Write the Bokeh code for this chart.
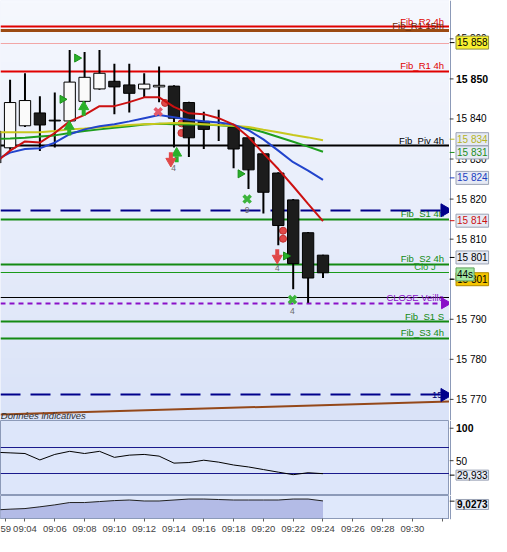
import numpy as np
from bokeh.plotting import figure
from bokeh.layouts import column, row
from bokeh.models import Range1d, FixedTicker
from bokeh.core.properties import value
from bokeh.embed import file_html
from bokeh.resources import INLINE

FONT = "Liberation Sans"

# ------------------------------------------------------------------ data
minutes = list(range(2, 25))          # 09:02 .. 09:24 (minutes after 09:00)
opens = [15837.0, 15832.8, 15838.3, 15841.5, 15839.7, 15839.5, 15844.4, 15847.5,
         15849.4, 15848.5, 15847.5, 15848.0, 15848.2, 15844.1, 15839.4, 15838.6,
         15837.9, 15835.3, 15831.3, 15826.5, 15819.8, 15811.6, 15806.0]
highs = [15839.0, 15849.8, 15851.4, 15845.7, 15846.6, 15857.2, 15856.7, 15857.2,
         15853.8, 15853.8, 15851.4, 15853.1, 15848.4, 15844.3, 15841.8, 15842.3,
         15838.1, 15835.5, 15831.5, 15826.7, 15820.0, 15811.8, 15806.1]
lows = [15826.0, 15832.3, 15838.0, 15832.0, 15832.9, 15839.0, 15843.8, 15847.3,
        15841.2, 15841.6, 15845.4, 15844.2, 15832.9, 15830.5, 15832.5, 15834.5,
        15827.7, 15822.5, 15816.4, 15808.5, 15797.5, 15794.1, 15800.3]
closes = [15829.0, 15844.1, 15844.6, 15838.5, 15839.5, 15849.2, 15850.4, 15851.4,
          15848.0, 15846.4, 15848.7, 15848.4, 15840.2, 15835.3, 15837.4, 15838.4,
          15832.5, 15827.3, 15821.7, 15813.4, 15803.9, 15800.3, 15801.6]

ma_red = [15829.0, 15832.1, 15834.4, 15834.1, 15836.5, 15839.4, 15841.0, 15843.2,
          15843.2, 15844.2, 15845.4, 15845.4, 15843.0, 15841.4, 15841.2, 15840.2,
          15838.6, 15835.5, 15831.4, 15827.5, 15823.2, 15818.8, 15814.5]
ma_blue = [15829.7, 15831.6, 15832.5, 15832.7, 15834.1, 15836.2, 15837.4, 15838.2,
           15838.7, 15839.4, 15840.2, 15841.0, 15840.4, 15839.8, 15839.4, 15839.1,
           15838.6, 15837.2, 15834.9, 15832.1, 15829.2, 15827.1, 15824.8]
ma_green = [15835.0, 15835.1, 15835.3, 15835.6, 15835.9, 15836.5, 15837.0, 15837.4,
            15837.8, 15838.2, 15838.6, 15838.8, 15838.7, 15838.6, 15838.6, 15838.4,
            15838.2, 15837.7, 15836.7, 15835.5, 15834.3, 15833.1, 15831.8]
ma_yellow = [15836.7, 15836.7, 15836.7, 15836.7, 15837.0, 15837.4, 15837.6, 15837.9,
             15838.2, 15838.5, 15838.7, 15838.8, 15839.0, 15838.9, 15838.7, 15838.5,
             15838.3, 15838.0, 15837.3, 15836.7, 15836.0, 15835.4, 15834.7]

rsi_vals = [63.0, 62.0, 61.0, 51.1, 59.6, 64.4, 61.0, 64.4, 55.1, 58.5, 59.6, 57.0,
            46.2, 47.1, 50.7, 47.7, 43.3, 40.3, 36.3, 32.3, 28.4, 31.4, 29.933]
rsi_levels = [70, 30]
rsi_ticks = [50, 100]

vol_vals = [4.4, 4.8, 5.1, 6.0, 7.0, 8.2, 8.2, 8.7, 9.2, 9.5, 9.0, 9.0, 9.5, 10.0,
            10.0, 9.75, 9.5, 9.5, 9.5, 9.5, 10.0, 10.0, 9.0273]

# horizontal levels (solid)
solid_prices = [15863.0, 15862.0, 15858.9, 15851.9, 15833.3, 15815.0, 15803.7,
                15801.7, 15795.4, 15789.4, 15785.3]
solid_colors = ["#e00000", "#9c4a12", "#f2a6a6", "#e00000", "#000000", "#138a13",
                "#138a13", "#1a9a1a", "#000000", "#138a13", "#138a13"]
solid_widths = [2, 3, 1, 2, 2, 2, 2, 1, 1, 2, 2]
navy_prices = [15817.2, 15771.1]
purple_prices = [15794.0]

level_texts = ["Fib_R2 4h", "Fib_R1 15m", "Fib_R1 4h", "Fib_Piv 4h", "Fib_S1 4h",
               "Fib_S2 4h", "Clo J", "CLOSE Veille", "Fib_S1 S", "Fib_S3 4h"]
level_text_prices = [15863.0, 15862.0, 15851.9, 15833.3, 15815.0, 15803.7, 15801.7,
                     15794.0, 15789.4, 15785.3]
level_text_colors = ["#e00000", "#6a2a0a", "#e00000", "#000000", "#138a13", "#138a13",
                     "#1a9a1a", "#8a10c8", "#138a13", "#138a13"]

trend_x = [2.357, 32.49]
trend_y = [15766.2, 15769.5]

# signals
tri_x = [7.49, 6.51, 18.46, 21.51]
tri_y = [15855.2, 15844.9, 15826.3, 15805.8]
up_x = [6.97, 7.94, 14.18]
up_y = [15837.4, 15842.3, 15830.7]
down_x = [13.79, 20.93]
down_y = [15830.2, 15806.0]
redx_x = [12.94]
redx_y = [15841.8]
grnx_x = [18.91, 21.95]
grnx_y = [15820.0, 15794.9]
dot_x = [14.50, 14.50, 13.40, 21.32, 21.32]
dot_y = [15838.9, 15836.5, 15844.0, 15812.1, 15810.1]
num_x = [13.98, 18.91, 20.93, 21.95]
num_y = [15827.8, 15817.2, 15802.9, 15792.0]
num_text = ["4", "9", "4", "4"]

price_ticks = [15770, 15780, 15790, 15800, 15810, 15820, 15830, 15840, 15850, 15860]
time_ticks = list(range(4, 33, 2))
time_labels = ["09:%02d" % m if m <= 30 else "" for m in time_ticks]
cursor_time = 2.7
cursor_label = "59"

pink_level = 15858.9
clo_j = 15801.7
timer_text = "44s"


def fmt_price(v):
    return f"{int(v):,}".replace(",", " ")


# ------------------------------------------------------------------ layout
FW = 449          # plot frame width
SW = 42           # price-scale column width
H_MAIN, H_RSI, H_VOL, AX_H = 420, 75, 41, 17
BORDER = "#8c9ab8"
x_rng = Range1d(2.357, 32.49)
LABEL_X = 32.12

common = dict(width=FW, x_range=x_rng, output_backend="svg", toolbar_location=None,
              tools="", min_border_left=0, min_border_top=0, min_border_right=0,
              border_fill_color="white", y_axis_location=None)

# ------------------------------------------------------------------ main
main = figure(height=H_MAIN, y_range=Range1d(15764.73, 15869.57), x_axis_location=None,
              background_fill_color="#e9eefb", outline_line_color=None,
              min_border_bottom=0, **common)
main.grid.visible = False

# background gradient
N = 128
top_c = np.array([0xf6, 0xf8, 0xfe], dtype=float)
bot_c = np.array([0xda, 0xe3, 0xf8], dtype=float)
tt = np.linspace(0, 1, N)[:, None]
cols = bot_c + (top_c - bot_c) * tt
img = np.zeros((N, 1), dtype=np.uint32)
view = img.view(dtype=np.uint8).reshape((N, 1, 4))
view[:, 0, 0] = cols[:, 0]
view[:, 0, 1] = cols[:, 1]
view[:, 0, 2] = cols[:, 2]
view[:, 0, 3] = 255
main.image_rgba(image=[img], x=x_rng.start, y=main.y_range.start,
                dw=x_rng.end - x_rng.start, dh=main.y_range.end - main.y_range.start)

main.hspan(y=solid_prices, line_color=solid_colors, line_width=solid_widths)
main.line(trend_x, trend_y, line_color="#94481a", line_width=2)

lbl_x = [LABEL_X if t != "Clo J" else LABEL_X - 0.55 for t in level_texts]
main.text(x=lbl_x, y=level_text_prices, text=level_texts, text_color=level_text_colors,
          text_align="right", text_baseline="bottom", text_font=value(FONT),
          text_font_size="9.5px")
main.text(x=[LABEL_X - 0.1], y=[navy_prices[1]], text=["15"], text_color="#00006a",
          text_align="right", text_baseline="middle", text_font=value(FONT),
          text_font_size="9.5px")
main.text(x=[x_rng.start + 0.02], y=[15765.95], text=["Données indicatives"],
          text_color="#303030", text_align="left", text_baseline="middle",
          text_font=value(FONT), text_font_size="9.5px", text_font_style="italic")

main.hspan(y=navy_prices, line_color="#00008b", line_width=2, line_dash="20 10")
main.hspan(y=purple_prices, line_color="#8a10c8", line_width=2, line_dash="5 4")
main.scatter(x=[LABEL_X + 0.05] * 2, y=navy_prices, marker="triangle", angle=-np.pi / 2,
             size=13, fill_color="#00008b", line_color="#00008b")
main.scatter(x=[LABEL_X + 0.05], y=purple_prices, marker="triangle", angle=-np.pi / 2,
             size=11, fill_color="#8a10c8", line_color="#8a10c8")

# signal dots behind candles
main.scatter(x=dot_x, y=dot_y, marker="circle", size=7, fill_color="#e04848",
             line_color="#c03030")

# candles
o = np.array(opens)
c = np.array(closes)
main.segment(x0=minutes, y0=highs, x1=minutes, y1=lows, line_color="black", line_width=2)
main.vbar(x=minutes, width=0.76, top=np.maximum(o, c), bottom=np.minimum(o, c),
          fill_color=["#fafafa" if cc > oo else "#1c1c1c" for oo, cc in zip(opens, closes)],
          line_color="black", line_width=1)

# moving averages
main.line(minutes, ma_green, line_color="#1e9e1e", line_width=2)
main.line(minutes, ma_yellow, line_color="#c8c81e", line_width=2)
main.line(minutes, ma_blue, line_color="#2244cc", line_width=2)
main.line(minutes, ma_red, line_color="#cc1111", line_width=2)

# signals
main.scatter(x=tri_x, y=tri_y, marker="triangle", angle=-np.pi / 2, size=8,
             fill_color="#2ab02a", line_color="#189018")
main.rect(x=up_x, y=[v - 0.75 for v in up_y], width=4, height=6, width_units="screen",
          height_units="screen", fill_color="#2ab02a", line_color=None)
main.scatter(x=up_x, y=[v + 0.75 for v in up_y], marker="triangle", size=10,
             fill_color="#2ab02a", line_color="#2ab02a")
main.rect(x=down_x, y=[v + 0.75 for v in down_y], width=4, height=6, width_units="screen",
          height_units="screen", fill_color="#e04848", line_color=None)
main.scatter(x=down_x, y=[v - 0.75 for v in down_y], marker="inverted_triangle", size=10,
             fill_color="#e04848", line_color="#e04848")
main.scatter(x=redx_x, y=redx_y, marker="x", size=10, line_width=3.5, line_color="#e45a6a")
main.scatter(x=grnx_x, y=grnx_y, marker="x", size=10, line_width=3.5, line_color="#3cb43c")
main.text(x=num_x, y=num_y, text=num_text, text_color="#6a6a6a", text_align="center",
          text_baseline="middle", text_font=value(FONT), text_font_size="8.5px")

# ------------------------------------------------------------------ RSI
rsi = figure(height=H_RSI, y_range=Range1d(-3.7, 111.9), x_axis_location=None,
             background_fill_color="#dde6fa", outline_line_color=BORDER,
             min_border_bottom=0, **common)
rsi.grid.visible = False
rsi.hspan(y=rsi_levels, line_color="#1a1a8c", line_width=1)
rsi.line(minutes, rsi_vals, line_color="black", line_width=1)

# ------------------------------------------------------------------ lower panel
vol = figure(height=H_VOL, y_range=Range1d(0, 11.82), x_axis_location="below",
             background_fill_color="#dfe8fb", outline_line_color=BORDER,
             min_border_bottom=AX_H, **common)
vol.grid.visible = False
vol.varea(x=minutes, y1=0, y2=vol_vals, fill_color="#b3bbe6")
vol.line(minutes, vol_vals, line_color="#202020", line_width=1)

xa = vol.xaxis[0]
xa.ticker = FixedTicker(ticks=[cursor_time] + time_ticks)
ov = {t: lab for t, lab in zip(time_ticks, time_labels)}
ov[cursor_time] = cursor_label
xa.major_label_overrides = ov
xa.major_tick_in = 0
xa.major_tick_out = 3
xa.minor_tick_line_color = None
xa.axis_line_color = BORDER
xa.major_tick_line_color = "#606060"
xa.major_label_text_font = FONT
xa.major_label_text_font_size = "9.5px"
xa.major_label_standoff = 1

# ------------------------------------------------------------------ price scale column
side_common = dict(width=SW, x_range=Range1d(0, SW), output_backend="svg",
                   toolbar_location=None, tools="", min_border=0,
                   x_axis_location=None, y_axis_location=None, outline_line_color=None,
                   background_fill_color="white", border_fill_color="white")


def scale_text(fig, ys, texts, colors="black", bold=False, size="10px", x=6.5):
    fig.text(x=[x] * len(ys), y=ys, text=texts, text_color=colors, text_align="left",
             text_baseline="middle", text_font=value(FONT), text_font_size=size,
             text_font_style="bold" if bold else "normal")


def scale_box(fig, y, text, color="black", bg="#e6eaf4", border="#9aa2b4",
              bold=False, size="10px", tick=True):
    if tick:
        fig.segment(x0=[0], x1=[5], y0=[y], y1=[y], line_color=color, line_width=1)
    fig.text(x=[6.5], y=[y], text=[text], text_color=color, text_align="left",
             text_baseline="middle", text_font=value(FONT), text_font_size=size,
             text_font_style="bold" if bold else "normal",
             background_fill_color=bg, border_line_color=border, padding=1)


s_main = figure(height=H_MAIN, y_range=main.y_range, **side_common)
s_main.grid.visible = False
s_main.vspan(x=[0.5], line_color=BORDER, line_width=1)
s_main.segment(x0=[0] * len(price_ticks), x1=[4] * len(price_ticks), y0=price_ticks,
               y1=price_ticks, line_color="#404040", line_width=1)
plain = [t for t in price_ticks if t != 15850]
scale_text(s_main, plain, [fmt_price(t) for t in plain])
scale_text(s_main, [15850], [fmt_price(15850)], bold=True, size="10.5px")
scale_box(s_main, 15859.06, fmt_price(pink_level), bg="#f8f030", border="#909040")
scale_box(s_main, 15834.95, fmt_price(ma_yellow[-1]), color="#b4b428")
scale_box(s_main, 15831.64, fmt_price(ma_green[-1]), color="#1e8e1e")
scale_box(s_main, 15825.29, fmt_price(ma_blue[-1]), color="#2040c0")
scale_box(s_main, 15814.61, fmt_price(ma_red[-1]), color="#cc1111")
scale_box(s_main, 15805.43, fmt_price(closes[-1]))
scale_box(s_main, 15800.0, fmt_price(clo_j), bg="#f5c400", border="#b08a00")
scale_box(s_main, 15801.2, timer_text, bg="#a4e8a4", border="#60a060", tick=False)

s_rsi = figure(height=H_RSI, y_range=rsi.y_range, **side_common)
s_rsi.grid.visible = False
s_rsi.vspan(x=[0.5], line_color=BORDER, line_width=1)
s_rsi.segment(x0=[0, 0], x1=[4, 4], y0=rsi_ticks, y1=rsi_ticks, line_color="#404040")
scale_text(s_rsi, [50], ["50"])
scale_text(s_rsi, [100], ["100"], bold=True, size="10.5px")
scale_box(s_rsi, 27.7, f"{rsi_vals[-1]:.3f}".replace(".", ","))

s_vol = figure(height=H_VOL, y_range=vol.y_range, min_border_bottom=AX_H,
               **{k: v for k, v in side_common.items() if k != "min_border"},
               min_border_left=0, min_border_right=0, min_border_top=0)
s_vol.grid.visible = False
s_vol.vspan(x=[0.5], line_color=BORDER, line_width=1)
s_vol.segment(x0=[0], x1=[5], y0=[vol_vals[-1]], y1=[vol_vals[-1]], line_color="#202020")
scale_box(s_vol, 7.4, f"{vol_vals[-1]:.4f}".replace(".", ","), bold=True, tick=False)

layout = row(column(main, rsi, vol, spacing=0), column(s_main, s_rsi, s_vol, spacing=0),
             spacing=0)
open("out.html", "w").write(file_html(layout, INLINE))
